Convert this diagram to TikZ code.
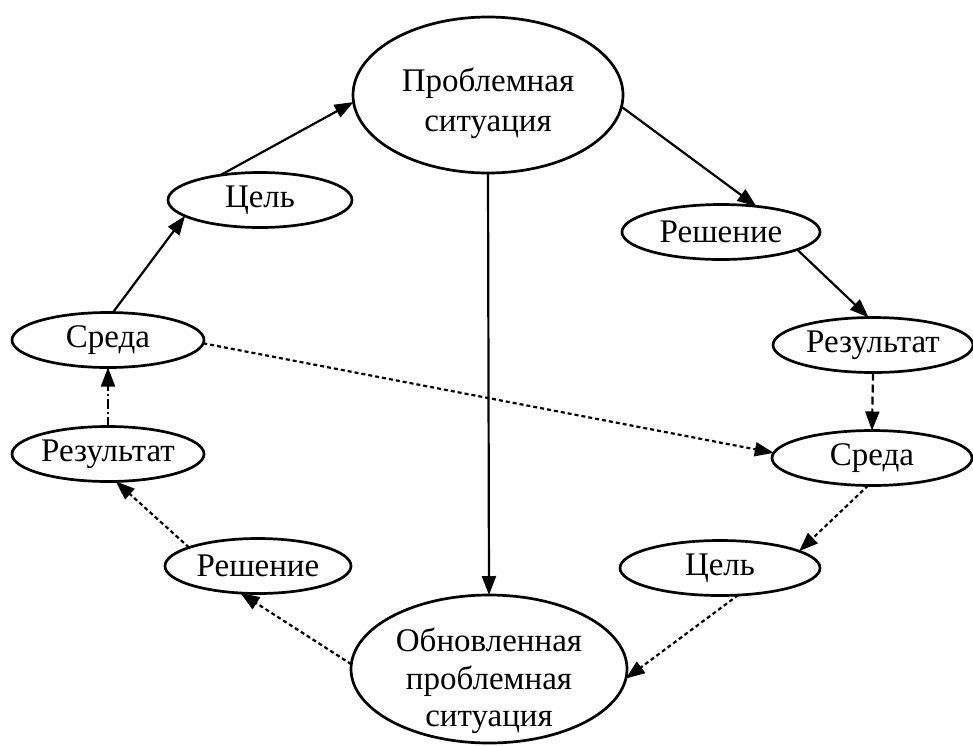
\documentclass[tikz,border=0pt]{standalone}
\usepackage{fontspec}
\setmainfont{Liberation Serif}
\usetikzlibrary{shapes.geometric,arrows.meta}
\begin{document}
\begin{tikzpicture}[x=1pt,y=-1pt,
  oval/.style={ellipse,draw,line width=2.7pt,inner sep=0pt,outer sep=0pt,
    minimum width=#1,minimum height=55pt,font=\fontsize{33}{40}\selectfont},
  bigoval/.style={ellipse,draw,line width=2.7pt,inner sep=0pt,outer sep=0pt},
  label text/.style={align=center,inner sep=0pt},
  conn/.style={line width=2.2pt,-{Triangle[length=19pt,width=14pt]}},
  dotline/.style={conn,dash pattern=on 4pt off 3pt},
  dashline/.style={conn,dash pattern=on 8pt off 4pt},
  dashdotline/.style={conn,dash pattern=on 10pt off 3pt on 2pt off 3pt}]
\useasboundingbox (0,0) rectangle (973,745);

% central problem situation
\node[bigoval,minimum width=270pt,minimum height=156pt] (ps) at (488,95) {};
\node[label text,font=\fontsize{33}{40}\selectfont] (pstext) at (488,103) {Проблемная\\ситуация};

% renewed problem situation
\node[bigoval,minimum width=276pt,minimum height=148pt] (upd) at (489,669) {};
\node[label text,font=\fontsize{33}{37.5}\selectfont] (updtext) at (489,681) {Обновленная\\проблемная\\ситуация};

% left cycle
\node[oval=184pt] (celL) at (260,200) {Цель};
\node[oval=192pt] (sredaL) at (108,340) {Среда};
\node[oval=192pt] (resL) at (108,454) {Результат};
\node[oval=186pt] (reshL) at (258,566) {Решение};

% right cycle
\node[oval=198pt] (reshR) at (721,232) {Решение};
\node[oval=200pt] (resR) at (873,345) {Результат};
\node[oval=200pt] (sredaR) at (872,458) {Среда};
\node[oval=200pt] (celR) at (720,568) {Цель};

% solid connectors
\draw[conn] (sredaL.80) -- (celL.192);
\draw[conn] (celL.148) -- (ps.183.4);
\draw[conn] (ps.355) -- (reshR.36.6);
\draw[conn] (reshR.347.5) -- (resR.99);
\draw[conn] (ps.south) -- (upd.north);

% dashed connectors
\draw[dashline] (resR.south) -- (sredaR.north);
\draw[dashdotline] (resL.north) -- (sredaL.south);

% dotted connectors
\draw[dotline] (sredaR.262) -- (celR.12);
\draw[dotline] (celR.304.6) -- (upd.356.6);
\draw[dotline] (upd.178.4) -- (reshL.237);
\draw[dotline] (reshL.165.8) -- (resL.286.5);
\draw[dotline] (sredaL.358.8) -- (sredaR.177.7);
\end{tikzpicture}
\end{document}
